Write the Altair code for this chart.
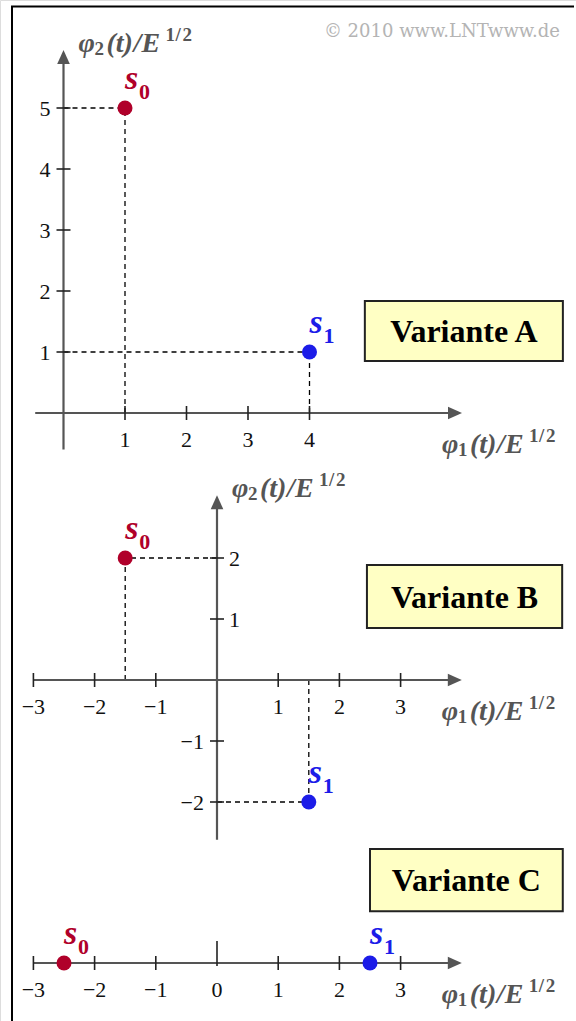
import altair as alt
import pandas as pd

# ---------------- data ----------------
# signal points s0 / s1 (coordinates in units of E^{1/2})
signal_names = ["s0", "s1"]
signal_subs = ["0", "1"]

a_phi1 = [1, 4]
a_phi2 = [5, 1]
b_phi1 = [-1.5, 1.5]
b_phi2 = [2, -2]
c_phi1 = [-2.5, 2.5]
c_phi2 = [0, 0]

# tick values of the hand-drawn axes
a_xticks = [1, 2, 3, 4]
a_yticks_left = [1, 2, 3, 4, 5]
b_xticks = [-3, -2, -1, 1, 2, 3]
b_yticks_left = [-2, -1]
b_yticks_right = [1, 2]
c_xticks = [-3, -2, -1, 0, 1, 2, 3]

variant_titles = ["Variante A", "Variante B", "Variante C"]
copyright_text = "© 2010 www.LNTwww.de"

# ---------------- layout / style ----------------
W, H = 576, 1021
# pixel position of each diagram's origin and its unit length
GEOM = {
    "A": dict(ox=63.5, oy=413.0, ux=61.5, uy=61.0),
    "B": dict(ox=217.0, oy=680.0, ux=61.2, uy=61.0),
    "C": dict(ox=217.0, oy=963.0, ux=61.2, uy=61.0),
}
# axis extents in data units (start, arrow tip)
AXES = {
    "A": dict(x0=-0.46, x1=6.48, y0=-0.6, y1=5.95),
    "B": dict(x0=-3.0, x1=4.0, y0=-2.62, y1=3.03),
    "C": dict(x0=-3.0, x1=4.0),
}
# annotation boxes (x, x2, y, y2) in data units
BOXES = {
    "A": (4.90, 8.12, 1.836, 0.852),
    "B": (2.45, 5.64, 1.885, 0.852),
    "C": (2.50, 5.65, 1.87, 0.85),
}

FONT = "Liberation Serif"
AXIS_GRAY = "#555555"
COLORS = ["#b0002a", "#1c1ce8"]
ARROW_RIGHT = "M-1,-0.9L1,0L-1,0.9Z"
ARROW_UP = "M-0.9,1L0,-1L0.9,1Z"
ARROW_PX = 14

# pieces of the axis title  phi_k(t)/E^{1/2}: text, dx, dy, size, style
TITLE_PIECES = [
    ("\u03c6", 0, 0, 28, "italic"),
    ("{k}", 16, 3, 19, "normal"),
    ("(t)", 28, 0, 28, "italic"),
    ("/", 55, 0, 28, "italic"),
    ("E", 63, 0, 28, "italic"),
    ("1", 87, -11, 19, "normal"),
    ("/", 97, -11, 19, "normal"),
    ("2", 104, -11, 19, "normal"),
]


def tick_text(v):
    return f"\u2212{abs(v)}" if v < 0 else str(v)


def panel(key, phi1, phi2, xticks, yt_left, yt_right, box_title, tall_zero=False):
    g = GEOM[key]
    ax = AXES[key]
    xs = alt.Scale(domain=[-g["ox"] / g["ux"], (W - g["ox"]) / g["ux"]], nice=False, zero=False)
    ys = alt.Scale(domain=[-(H - g["oy"]) / g["uy"], g["oy"] / g["uy"]], nice=False, zero=False)

    def X(f="x"):
        return alt.X(f"{f}:Q", scale=xs, axis=None)

    def Y(f="y"):
        return alt.Y(f"{f}:Q", scale=ys, axis=None)

    X2 = alt.X2(field="x2")
    Y2 = alt.Y2(field="y2")
    hx = ARROW_PX / 2 / g["ux"]
    hy = ARROW_PX / 2 / g["uy"]
    tx = 7 / g["ux"]
    ty = 7 / g["uy"]

    layers = []

    # annotation box
    bx = BOXES[key]
    box_df = pd.DataFrame({"x": [bx[0]], "x2": [bx[1]], "y": [bx[2]], "y2": [bx[3]],
                           "cx": [(bx[0] + bx[1]) / 2], "cy": [(bx[2] + bx[3]) / 2],
                           "t": [box_title]})
    layers.append(alt.Chart(box_df).mark_rect(fill="#ffffc4", stroke="#222222", strokeWidth=2)
                  .encode(x=X(), x2=X2, y=Y(), y2=Y2))

    # dashed guide lines from each signal point to both axes
    pts = pd.DataFrame({"name": signal_names, "sub": signal_subs, "x": phi1, "y": phi2})
    guides = []
    for p1, p2 in zip(phi1, phi2):
        if p2 != 0:
            guides.append(dict(x=0, x2=p1, y=p2, y2=p2))
            guides.append(dict(x=p1, x2=p1, y=0, y2=p2))
    if guides:
        layers.append(alt.Chart(pd.DataFrame(guides)).mark_rule(
            color="black", strokeWidth=1.3, strokeDash=[5, 4]).encode(x=X(), x2=X2, y=Y(), y2=Y2))

    # axes with arrow heads
    axis_rows = [dict(x=ax["x0"], x2=ax["x1"] - hx, y=0, y2=0)]
    arrows_r = [dict(x=ax["x1"] - hx, y=0)]
    arrows_u = []
    if "y0" in ax:
        axis_rows.append(dict(x=0, x2=0, y=ax["y0"], y2=ax["y1"] - hy))
        arrows_u.append(dict(x=0, y=ax["y1"] - hy))
    layers.append(alt.Chart(pd.DataFrame(axis_rows)).mark_rule(
        color=AXIS_GRAY, strokeWidth=2.2).encode(x=X(), x2=X2, y=Y(), y2=Y2))
    layers.append(alt.Chart(pd.DataFrame(arrows_r)).mark_point(
        shape=ARROW_RIGHT, filled=True, size=ARROW_PX ** 2, color=AXIS_GRAY, opacity=1,
        strokeWidth=0).encode(x=X(), y=Y()))
    if arrows_u:
        layers.append(alt.Chart(pd.DataFrame(arrows_u)).mark_point(
            shape=ARROW_UP, filled=True, size=ARROW_PX ** 2, color=AXIS_GRAY, opacity=1,
            strokeWidth=0).encode(x=X(), y=Y()))

    # tick marks
    tick_rows = []
    for t in xticks:
        if tall_zero and t == 0:
            tick_rows.append(dict(x=0, x2=0, y=-3 / g["uy"], y2=22 / g["uy"]))
        else:
            tick_rows.append(dict(x=t, x2=t, y=-ty, y2=ty))
    for t in yt_left + yt_right:
        tick_rows.append(dict(x=-tx, x2=tx, y=t, y2=t))
    layers.append(alt.Chart(pd.DataFrame(tick_rows)).mark_rule(
        color="#222222", strokeWidth=1.6).encode(x=X(), x2=X2, y=Y(), y2=Y2))

    # tick labels
    xl = pd.DataFrame({"x": xticks, "y": [0] * len(xticks), "t": [tick_text(v) for v in xticks]})
    layers.append(alt.Chart(xl).mark_text(font=FONT, fontSize=22, color="#111111", align="center",
                                          baseline="alphabetic", dy=34)
                  .encode(x=X(), y=Y(), text="t:N"))
    if yt_left:
        yl = pd.DataFrame({"x": [0] * len(yt_left), "y": yt_left, "t": [tick_text(v) for v in yt_left]})
        layers.append(alt.Chart(yl).mark_text(font=FONT, fontSize=22, color="#111111", align="right",
                                              baseline="middle", dx=-13, dy=1)
                      .encode(x=X(), y=Y(), text="t:N"))
    if yt_right:
        yr = pd.DataFrame({"x": [0] * len(yt_right), "y": yt_right, "t": [tick_text(v) for v in yt_right]})
        layers.append(alt.Chart(yr).mark_text(font=FONT, fontSize=22, color="#111111", align="left",
                                              baseline="middle", dx=12, dy=1)
                      .encode(x=X(), y=Y(), text="t:N"))

    # signal points and their labels
    col = alt.Color("name:N", scale=alt.Scale(domain=signal_names, range=COLORS), legend=None)
    layers.append(alt.Chart(pts).mark_circle(size=225, opacity=1).encode(x=X(), y=Y(), color=col))
    layers.append(alt.Chart(pts).mark_text(text="s", font=FONT, fontSize=34, fontStyle="italic",
                                           fontWeight="bold", align="left", baseline="alphabetic",
                                           dx=0, dy=-19).encode(x=X(), y=Y(), color=col))
    layers.append(alt.Chart(pts).mark_text(font=FONT, fontSize=22, fontWeight="bold", align="left",
                                           baseline="alphabetic", dx=14, dy=-9)
                  .encode(x=X(), y=Y(), text="sub:N", color=col))

    # axis titles  phi_k(t)/E^{1/2}
    def axis_title(px, py, dx0, dy0, k):
        anchor = alt.Chart(pd.DataFrame({"x": [px], "y": [py]}))
        out = []
        for txt, ddx, ddy, fs, style in TITLE_PIECES:
            out.append(anchor.mark_text(text=txt.format(k=k), font=FONT, fontSize=fs,
                                        fontStyle=style, fontWeight="bold", color=AXIS_GRAY,
                                        align="left", baseline="alphabetic",
                                        dx=dx0 + ddx, dy=dy0 + ddy)
                       .encode(x=X(), y=Y()))
        return out

    layers += axis_title(ax["x1"], 0, -20, 40, "1")
    if "y1" in ax:
        layers += axis_title(0, ax["y1"], 15, 2, "2")

    # box caption
    layers.append(alt.Chart(box_df).mark_text(font=FONT, fontSize=32, fontWeight="bold",
                                              color="black", align="center", baseline="middle", dy=1)
                  .encode(x=X("cx"), y=Y("cy"), text="t:N"))

    return alt.layer(*layers)


pa = panel("A", a_phi1, a_phi2, a_xticks, a_yticks_left, [], variant_titles[0])
pb = panel("B", b_phi1, b_phi2, b_xticks, b_yticks_left, b_yticks_right, variant_titles[1])
pc = panel("C", c_phi1, c_phi2, c_xticks, [], [], variant_titles[2], tall_zero=True)

# outer frame (top and left edge) and copyright line
frame = alt.Chart(pd.DataFrame({"t": [copyright_text]}))
frame_top = frame.mark_rule(color="black", strokeWidth=2).encode(
    x=alt.value(11), x2=alt.value(574), y=alt.value(6.5))
frame_left = frame.mark_rule(color="black", strokeWidth=2).encode(
    x=alt.value(12), y=alt.value(6), y2=alt.value(H))
copyright_mark = frame.mark_text(font="DejaVu Serif", fontSize=18, color="#b4b4b4", align="right",
                                 baseline="alphabetic").encode(
    x=alt.value(560), y=alt.value(37), text="t:N")

chart = alt.layer(frame_top, frame_left, copyright_mark, pa, pb, pc).resolve_scale(
    x="independent", y="independent").properties(
    width=W, height=H, padding=0, autosize=alt.AutoSizeParams(type="none")).configure_view(
    stroke="transparent").configure(background="white")

chart.save("out.html", embed_options={"renderer": "svg", "actions": False})
